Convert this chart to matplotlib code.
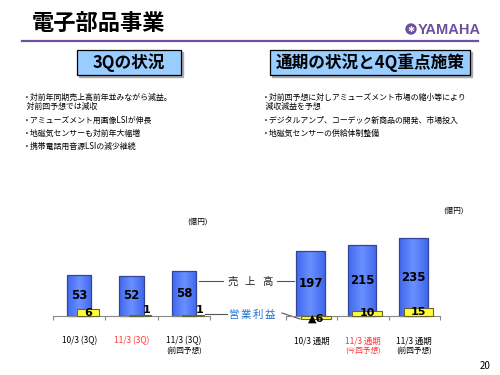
import numpy as np
import matplotlib
matplotlib.use('Agg')
import matplotlib.pyplot as plt
from matplotlib.patches import Rectangle, Circle
from matplotlib.colors import LinearSegmentedColormap

plt.rcParams['font.family'] = ['Noto Sans CJK JP', 'DejaVu Sans']

# データ（億円）
q_labels = ['10/3 (3Q)', '11/3 (3Q)', '11/3 (3Q)']
q_sub = ['', '', '(前回予想)']
q_sales = [53, 52, 58]
q_profit = [6, 1, 1]

fy_labels = ['10/3 通期', '11/3 通期', '11/3 通期']
fy_sub = ['', '(今回予想)', '(前回予想)']
fy_sales = [197, 215, 235]
fy_profit = [-6, 10, 15]

label_colors = ['black', '#FF3333', 'black']

left_bullets = ['・対前年同期売上高前年並みながら減益。',
                '  対前回予想では減収',
                '・アミューズメント用画像LSIが伸長',
                '・地磁気センサーも対前年大幅増',
                '・携帯電話用音源LSIの減少継続']
left_bullet_y = [97, 106, 120, 133, 146]
right_bullets = ['・対前回予想に対しアミューズメント市場の縮小等により',
                 '  減収減益を予想',
                 '・デジタルアンプ、コーデック新商品の開発、市場投入',
                 '・地磁気センサーの供給体制整備']
right_bullet_y = [97, 106, 120, 133]

BLUE = '#4E78F4'
YELLOW = '#FFFF33'
PURPLE = '#6E4FA0'
blue_grad = LinearSegmentedColormap.from_list('bg', ['#4068EE', '#6A90FF', '#4068EE'])

fig = plt.figure(figsize=(5, 3.75), dpi=100)

# スライド部分（ピクセル座標）
bg = fig.add_axes([0, 0, 1, 1])
bg.set_xlim(0, 500)
bg.set_ylim(375, 0)
bg.axis('off')

bg.text(32, 23, '電子部品事業', fontsize=16, fontweight='bold', va='center', ha='left')
bg.add_patch(Circle((411, 29), 5, color=PURPLE))
bg.text(411, 29.5, '✱', color='white', fontsize=6, ha='center', va='center', family='DejaVu Sans')
bg.text(418, 29.5, 'YAMAHA', color=PURPLE, fontsize=10.5, fontweight='bold',
        family='Liberation Sans', va='center', ha='left')
bg.plot([22, 478], [41, 41], color=PURPLE, lw=1.6)

for (x0, x1, txt, fs) in [(77, 181, '3Qの状況', 12), (270, 470, '通期の状況と4Q重点施策', 12)]:
    bg.add_patch(Rectangle((x0 + 2, 52), x1 - x0, 25, color='#AAAAAA', zorder=1))
    bg.add_patch(Rectangle((x0, 50), x1 - x0, 25, facecolor='#99CCFF', edgecolor='black', lw=0.9, zorder=2))
    bg.text((x0 + x1) / 2, 63, txt, fontsize=fs, fontweight='bold', ha='center', va='center', zorder=3)

for t, y in zip(left_bullets, left_bullet_y):
    bg.text(23, y, t, fontsize=5.7, va='center', ha='left')
for t, y in zip(right_bullets, right_bullet_y):
    bg.text(262, y, t, fontsize=5.7, va='center', ha='left')

bg.text(197, 222, '(億円)', fontsize=5.5, ha='center', va='center')
bg.text(454, 211, '(億円)', fontsize=5.5, ha='center', va='center')
bg.text(485, 366, '20', fontsize=7, ha='center', va='center')

# 凡例の引き出し線
bg.plot([199, 223], [281, 281], color='#555555', lw=0.8)
bg.plot([277, 294], [281, 281], color='#555555', lw=0.8)
for cx, ch in zip([233, 250, 267], '売上高'):
    bg.text(cx, 282, ch, fontsize=7.5, color='#222222', ha='center', va='center')
bg.plot([205, 227], [314, 314], color='#555555', lw=0.8)
bg.plot([282, 300], [313, 319], color='#555555', lw=0.8)
for cx, ch in zip([234, 246, 258, 270], '営業利益'):
    bg.text(cx, 315, ch, fontsize=7.5, color='#1E73D2', ha='center', va='center')


def draw_chart(rect, sales, profit, s_lim, p_lim, bw, off, yw, yoff, labels, subs):
    ax = fig.add_axes(rect)
    ax.patch.set_alpha(0)
    x = np.arange(len(sales)) + 0.5
    bars = ax.bar(x + off, sales, width=bw, color=BLUE, lw=0, zorder=2)
    # 円柱風のグラデーション
    for b in bars:
        x0, y0 = b.get_x(), b.get_y()
        im = ax.imshow(np.linspace(0, 1, 50).reshape(1, -1), cmap=blue_grad, aspect='auto',
                       extent=[x0, x0 + b.get_width(), y0, y0 + b.get_height()], zorder=2.1)
        im.set_clip_path(b)
    ax.bar(x + off, sales, width=bw, fill=False, edgecolor='#34449A', lw=0.9, zorder=2.2)
    ax.set_xlim(0, 3)
    ax.set_ylim(*s_lim)
    for xi, v in zip(x + off, sales):
        ax.text(xi, v / 2, str(v), fontsize=8.5, fontweight='bold', ha='center', va='center',
                family='DejaVu Sans', zorder=5)
    for s in ['top', 'right', 'left']:
        ax.spines[s].set_visible(False)
    ax.spines['bottom'].set_position(('data', 0))
    ax.spines['bottom'].set_color('#888888')
    ax.set_xticks([0, 1, 2, 3])
    ax.set_xticklabels([])
    ax.tick_params(axis='x', length=3, color='#888888', direction='out')
    ax.set_yticks([])

    ax2 = ax.twinx()
    ax2.set_ylim(*p_lim)
    ax2.bar(x + yoff, profit, width=yw, color=YELLOW, edgecolor='#666633', lw=0.8, zorder=3)
    for s in ax2.spines.values():
        s.set_visible(False)
    ax2.set_yticks([])
    for xi, v in zip(x + yoff, profit):
        if v < 0:
            ax2.text(xi, v / 2 - 1, '▲' + str(abs(v)), fontsize=8, fontweight='bold',
                     ha='center', va='center', family='DejaVu Sans')
        elif v < 3:
            ax2.text(xi + yw * 0.3, v, str(v), fontsize=8, fontweight='bold',
                     ha='center', va='bottom', family='DejaVu Sans')
        else:
            ax2.text(xi, v / 2, str(v), fontsize=8, fontweight='bold',
                     ha='center', va='center', family='DejaVu Sans')

    for xi, lab, sub, c in zip(x, labels, subs, label_colors):
        ax.annotate(lab, (xi, 0), xytext=(0, -25), textcoords='offset pixels',
                    fontsize=6, color=c, ha='center', va='center')
        if sub:
            ax.annotate(sub, (xi, 0), xytext=(0, -35), textcoords='offset pixels',
                        fontsize=5.5, color=c, ha='center', va='center')
    return ax


# 四半期（3Q）
draw_chart([53 / 500, 45 / 375, 157 / 500, 130 / 375], q_sales, q_profit,
           (-14 / 0.775, 116 / 0.775), (-14 / 1.1, 116 / 1.1),
           0.46, 0.0, 0.42, 0.17, q_labels, q_sub)
# 通期
draw_chart([286 / 500, 45 / 375, 154 / 500, 130 / 375], fy_sales, fy_profit,
           (-14 / 0.331, 116 / 0.331), (-14 / 0.55, 116 / 0.55),
           0.56, -0.02, 0.58, 0.08, fy_labels, fy_sub)

fig.savefig('out.png', dpi=100)
